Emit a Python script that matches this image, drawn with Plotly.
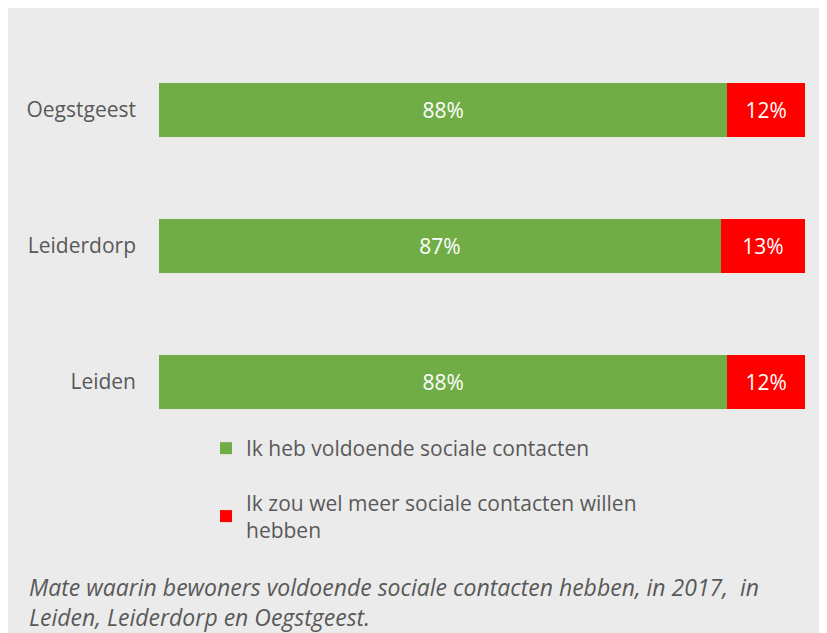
import plotly.graph_objects as go

categories = ["Leiden", "Leiderdorp", "Oegstgeest"]
voldoende = [88, 87, 88]
meer = [12, 13, 12]
series_names = ["Ik heb voldoende sociale contacten",
                "Ik zou wel meer sociale contacten willen<br>hebben"]
caption = ("Mate waarin bewoners voldoende sociale contacten hebben, in 2017,  in<br>"
           "Leiden, Leiderdorp en Oegstgeest.")

GREEN = "#70AD47"
RED = "#FF0000"
GREY_BG = "#EBEBEB"
TEXT = "#595959"
FONT = "Open Sans, Noto Sans, Liberation Sans, sans-serif"

OFF = 8  # page body margin
W, H = 827 - OFF, 633 - OFF
ML, MR, MT, MB = 159 - OFF, 22, 42 - OFF, 183
PW, PH = W - ML - MR, H - MT - MB

def px_x(p):  # reference pixel -> paper
    return (p - OFF - ML) / PW

def px_y(p):
    return (H - MB - (p - OFF)) / PH

fig = go.Figure()
fig.add_trace(go.Bar(
    y=categories, x=voldoende, orientation="h", name=series_names[0],
    marker=dict(color=GREEN, line=dict(width=0)),
    texttemplate="%{x}%", textposition="inside", insidetextanchor="middle",
    textfont=dict(color="white", size=21, family=FONT),
    legendgroup="a", hoverinfo="skip",
))
fig.add_trace(go.Bar(
    y=categories, x=meer, orientation="h", name=series_names[1],
    marker=dict(color=RED, line=dict(width=0)),
    texttemplate="%{x}%", textposition="inside", insidetextanchor="middle",
    textfont=dict(color="white", size=21, family=FONT),
    legendgroup="b", hoverinfo="skip",
))

fig.update_layout(
    width=W, height=H,
    barmode="stack", bargap=0.6,
    margin=dict(l=ML, r=MR, t=MT, b=MB, pad=0),
    paper_bgcolor=GREY_BG, plot_bgcolor=GREY_BG,
    font=dict(family=FONT, color=TEXT, size=21),
    uniformtext=dict(mode="show", minsize=10),
    xaxis=dict(range=[0, 100], visible=False, fixedrange=True),
    yaxis=dict(range=[-0.5, 2.5], showgrid=False, zeroline=False, showline=False,
               ticks="", ticklabelstandoff=22,
               tickfont=dict(size=21, color=TEXT, family=FONT), fixedrange=True),
    showlegend=True,
    legend=dict(x=px_x(206), y=px_y(428), xanchor="left", yanchor="top",
                orientation="v", traceorder="grouped", tracegroupgap=24,
                bgcolor="rgba(0,0,0,0)", font=dict(size=21, color=TEXT, family=FONT),
                itemclick=False, itemdoubleclick=False),
    annotations=[
        dict(text=caption, xref="paper", yref="paper",
             x=px_x(27), y=px_y(569), xanchor="left", yanchor="top",
             align="left", showarrow=False,
             font=dict(size=23, color=TEXT, family=FONT, style="italic")),
    ],
)

fig.write_html("out.html", config={"displayModeBar": False})
